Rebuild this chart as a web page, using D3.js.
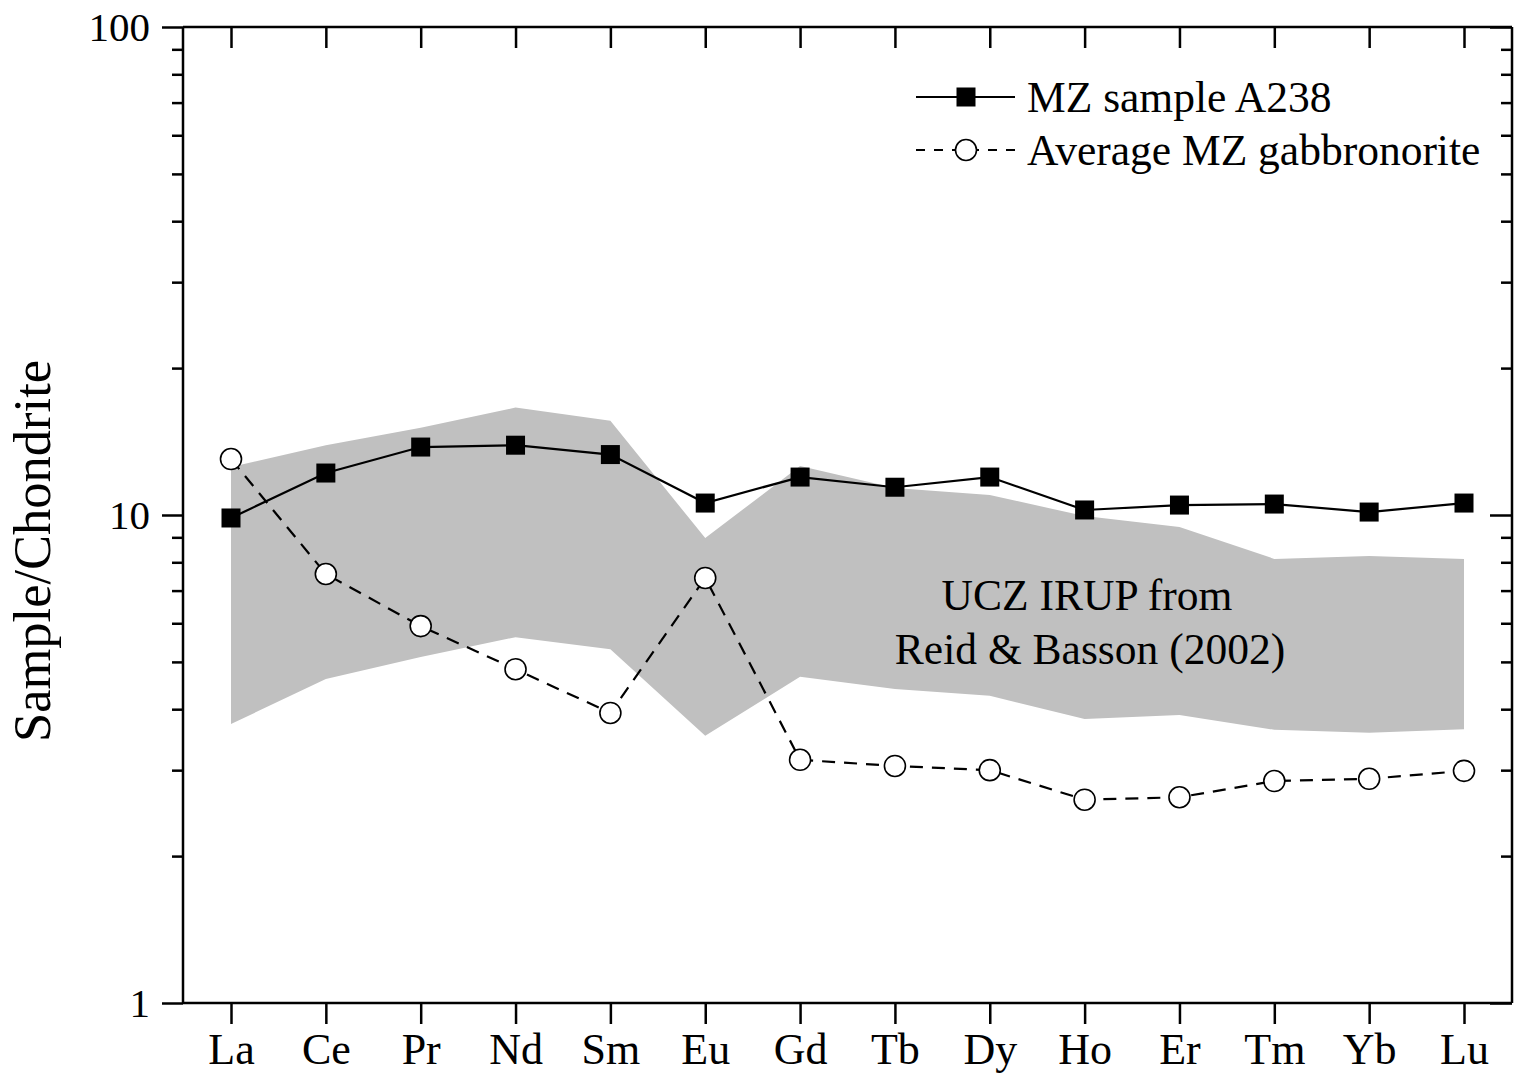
<!DOCTYPE html>
<html>
<head>
<meta charset="utf-8">
<script src="https://cdn.jsdelivr.net/npm/d3@7"></script>
<style>
  html, body { margin: 0; padding: 0; background: #fff; }
  svg { display: block; }
  text { font-family: "Liberation Serif", "Times New Roman", serif; fill: #000; }
</style>
</head>
<body>
<svg id="chart" width="1526" height="1084"></svg>
<script>
const elements = ["La","Ce","Pr","Nd","Sm","Eu","Gd","Tb","Dy","Ho","Er","Tm","Yb","Lu"];
const sampleA238 = [9.86, 12.19, 13.78, 13.9, 13.3, 10.58, 11.96, 11.4, 11.96, 10.24, 10.48, 10.53, 10.14, 10.58];
const avgGabbronorite = [13.02, 7.57, 5.92, 4.83, 3.93, 7.43, 3.15, 3.06, 3.00, 2.61, 2.64, 2.85, 2.88, 2.99];
const irupUpper = [12.54, 13.9, 15.1, 16.6, 15.6, 8.97, 12.6, 11.36, 10.99, 9.95, 9.45, 8.13, 8.24, 8.13];
const irupLower = [3.73, 4.61, 5.12, 5.62, 5.31, 3.53, 4.66, 4.40, 4.26, 3.82, 3.89, 3.63, 3.58, 3.64];
const yMajorTicks = [1, 10, 100];
const yMinorTicks = [2,3,4,5,6,7,8,9,20,30,40,50,60,70,80,90];
const yTitle = "Sample/Chondrite";
const legendLabels = ["MZ sample A238", "Average MZ gabbronorite"];
const annotation = ["UCZ IRUP from", "Reid & Basson (2002)"];

(function () {
const svg = d3.select("#chart");
const L = 183, R = 1512, T = 27, B = 1003;

const x = d3.scalePoint().domain(elements).range([231, 1464]);
const y = d3.scaleLog().domain([1, 100]).range([B, T]);

const band = elements.map((e, i) => ({e, hi: irupUpper[i], lo: irupLower[i]}));
svg.append("path")
  .datum(band)
  .attr("fill", "#c0c0c0")
  .attr("stroke", "none")
  .attr("d", d3.area().x(d => x(d.e)).y0(d => y(d.lo)).y1(d => y(d.hi)));

svg.append("text").attr("x", 1087).attr("y", 610).attr("text-anchor", "middle")
  .attr("font-size", 43.5).text(annotation[0]);
svg.append("text").attr("x", 1090).attr("y", 664).attr("text-anchor", "middle")
  .attr("font-size", 43.5).text(annotation[1]);

const d2 = elements.map((e, i) => ({e, v: avgGabbronorite[i]}));
svg.append("path").datum(d2)
  .attr("fill", "none").attr("stroke", "#000").attr("stroke-width", 2.2)
  .attr("stroke-dasharray", "13,9")
  .attr("d", d3.line().x(d => x(d.e)).y(d => y(d.v)));
svg.selectAll("circle.avg").data(d2).join("circle")
  .attr("class", "avg")
  .attr("cx", d => x(d.e)).attr("cy", d => y(d.v)).attr("r", 10.5)
  .attr("fill", "#fff").attr("stroke", "#000").attr("stroke-width", 1.6);

const d1 = elements.map((e, i) => ({e, v: sampleA238[i]}));
svg.append("path").datum(d1)
  .attr("fill", "none").attr("stroke", "#000").attr("stroke-width", 2.2)
  .attr("d", d3.line().x(d => x(d.e)).y(d => y(d.v)));
const sq = 19;
svg.selectAll("rect.samp").data(d1).join("rect")
  .attr("class", "samp")
  .attr("x", d => x(d.e) - sq/2).attr("y", d => y(d.v) - sq/2)
  .attr("width", sq).attr("height", sq).attr("fill", "#000");

const ax = svg.append("g").attr("stroke", "#000").attr("stroke-width", 2.5).attr("fill", "none");
ax.append("line").attr("x1", L).attr("x2", L).attr("y1", T).attr("y2", B);
ax.append("line").attr("x1", R).attr("x2", R).attr("y1", T).attr("y2", B);
ax.append("line").attr("x1", L).attr("x2", R).attr("y1", T).attr("y2", T);
ax.append("line").attr("x1", L).attr("x2", R).attr("y1", B).attr("y2", B);

const leftMajor = d3.axisLeft(y).tickValues(yMajorTicks).tickSize(21).tickPadding(12)
  .tickFormat(d3.format("d"));
const gl = svg.append("g").attr("transform", `translate(${L},0)`).call(leftMajor);
const leftMinor = d3.axisLeft(y).tickValues(yMinorTicks).tickSize(11).tickFormat("");
const glm = svg.append("g").attr("transform", `translate(${L},0)`).call(leftMinor);
const rightMajor = d3.axisLeft(y).tickValues(yMajorTicks).tickSize(22).tickFormat("");
const gr = svg.append("g").attr("transform", `translate(${R},0)`).call(rightMajor);
const rightMinor = d3.axisLeft(y).tickValues(yMinorTicks).tickSize(11).tickFormat("");
const grm = svg.append("g").attr("transform", `translate(${R},0)`).call(rightMinor);
const bottomAxis = d3.axisBottom(x).tickSize(21).tickPadding(9);
const gb = svg.append("g").attr("transform", `translate(0,${B})`).call(bottomAxis);
const topAxis = d3.axisBottom(x).tickSize(21).tickFormat("");
const gt = svg.append("g").attr("transform", `translate(0,${T})`).call(topAxis);

[gl, glm, gr, grm, gb, gt].forEach(g => {
  g.select(".domain").remove();
  g.selectAll(".tick line").attr("stroke", "#000").attr("stroke-width", 2.5);
  g.selectAll(".tick text").attr("font-size", 41).attr("fill", "#000");
});
gb.selectAll(".tick text").attr("font-size", 44);

svg.append("text")
  .attr("transform", `translate(50,${(T + B) / 2 + 36}) rotate(-90)`)
  .attr("text-anchor", "middle").attr("font-size", 52.5).text(yTitle);

const lg = svg.append("g");
lg.append("line").attr("x1", 916).attr("x2", 1015).attr("y1", 97).attr("y2", 97)
  .attr("stroke", "#000").attr("stroke-width", 2.2);
lg.append("rect").attr("x", 966 - sq/2).attr("y", 97 - sq/2).attr("width", sq).attr("height", sq).attr("fill", "#000");
lg.append("text").attr("x", 1027).attr("y", 112).attr("font-size", 43.5).text(legendLabels[0]);
lg.append("line").attr("x1", 916).attr("x2", 1015).attr("y1", 150).attr("y2", 150)
  .attr("stroke", "#000").attr("stroke-width", 2.2).attr("stroke-dasharray", "9,9");
lg.append("circle").attr("cx", 966).attr("cy", 150).attr("r", 10.5)
  .attr("fill", "#fff").attr("stroke", "#000").attr("stroke-width", 1.6);
lg.append("text").attr("x", 1027).attr("y", 165).attr("font-size", 43.5).text(legendLabels[1]);
})();
</script>
</body>
</html>
